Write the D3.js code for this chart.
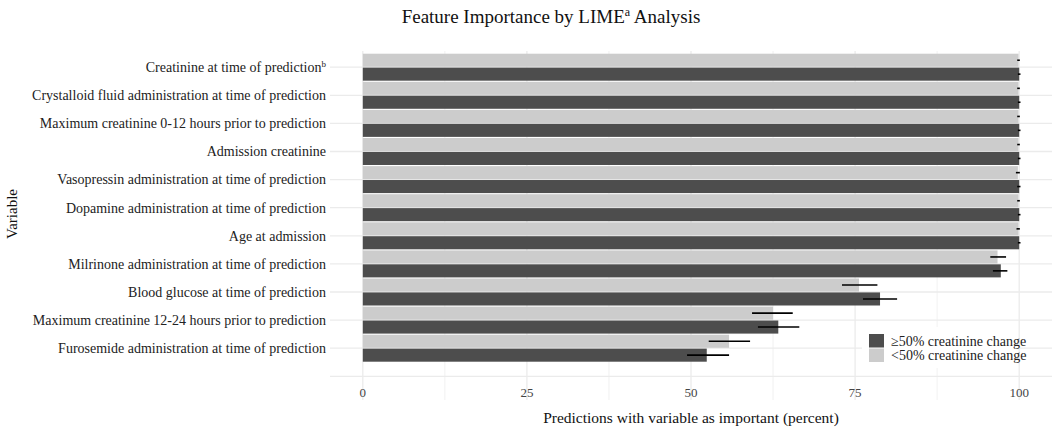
<!DOCTYPE html>
<html>
<head>
<meta charset="utf-8">
<script src="https://cdn.jsdelivr.net/npm/d3@7"></script>
<style>
  body { margin: 0; background: white; }
  text { font-family: 'Liberation Serif', 'DejaVu Serif', serif; }
</style>
</head>
<body>
<svg id="chart" width="1055" height="433"></svg>
<script>
// categories, top to bottom
const variables = [
    'Creatinine at time of prediction',
    'Crystalloid fluid administration at time of prediction',
    'Maximum creatinine 0-12 hours prior to prediction',
    'Admission creatinine',
    'Vasopressin administration at time of prediction',
    'Dopamine administration at time of prediction',
    'Age at admission',
    'Milrinone administration at time of prediction',
    'Blood glucose at time of prediction',
    'Maximum creatinine 12-24 hours prior to prediction',
    'Furosemide administration at time of prediction'
]
// superscript note after some labels
const labelNotes = ['b', '', '', '', '', '', '', '', '', '', '']

// <50% creatinine change
const lowValue = [99.9, 99.9, 99.9, 99.9, 99.8, 99.9, 99.9, 96.7, 75.6, 62.5, 55.8]
const lowMin = [99.7, 99.7, 99.7, 99.7, 99.5, 99.7, 99.6, 95.6, 73.0, 59.3, 52.7]
const lowMax = [100.1, 100.1, 100.1, 100.1, 100.1, 100.1, 100.1, 98.0, 78.4, 65.5, 59.0]

// ≥50% creatinine change
const highValue = [100, 100, 100, 100, 100, 100, 100, 97.2, 78.8, 63.3, 52.4]
const highMin = [99.8, 99.8, 99.8, 99.8, 99.7, 99.8, 99.8, 96.0, 76.2, 60.2, 49.4]
const highMax = [100.2, 100.2, 100.2, 100.2, 100.2, 100.2, 100.2, 98.2, 81.4, 66.5, 55.8]

const groups = ['low', 'high']
const groupLabels = { high: '≥50% creatinine change', low: '<50% creatinine change' }
const xTicks = [0, 25, 50, 75, 100]
const xMinor = [12.5, 37.5, 62.5, 87.5]

const color = { high: '#4d4d4d', low: '#cccccc' }
const grid = '#ebebeb'

const svg = d3.select('#chart')

// panel box
const panel = { left: 330, right: 1052, top: 51, bottom: 400 }

const x = d3.scaleLinear().domain([-5, 105]).range([panel.left, panel.right])
const y = d3.scaleBand().domain(variables).range([53.7, 53.7 + 28 * variables.length]).paddingInner(0.04)
const ySub = d3.scaleBand().domain(groups).range([0, y.bandwidth()]).paddingInner(0.06)

const rows = variables.map((name, i) => ({
    name: name,
    note: labelNotes[i],
    bars: [
        { key: 'low', value: lowValue[i], min: lowMin[i], max: lowMax[i] },
        { key: 'high', value: highValue[i], min: highMin[i], max: highMax[i] }
    ]
}))

// 网格线
const gridG = svg.append('g')
gridG.selectAll('.minor')
    .data(xMinor)
    .join('line')
    .attr('x1', (d) => x(d))
    .attr('x2', (d) => x(d))
    .attr('y1', panel.top)
    .attr('y2', panel.bottom)
    .attr('stroke', grid)
    .attr('stroke-width', 0.7)
gridG.selectAll('.major')
    .data(xTicks)
    .join('line')
    .attr('x1', (d) => x(d))
    .attr('x2', (d) => x(d))
    .attr('y1', panel.top)
    .attr('y2', panel.bottom)
    .attr('stroke', grid)
    .attr('stroke-width', 1.3)
// horizontal lines at every category, plus the empty slot under the last one
const rowCentres = variables.map((d) => y(d) + y.bandwidth() / 2)
rowCentres.push(rowCentres[rowCentres.length - 1] + y.step())
gridG.selectAll('.hline')
    .data(rowCentres)
    .join('line')
    .attr('x1', panel.left)
    .attr('x2', panel.right)
    .attr('y1', (d) => d)
    .attr('y2', (d) => d)
    .attr('stroke', grid)
    .attr('stroke-width', 1.3)

// 条形
const rowG = svg.append('g')
    .selectAll('g')
    .data(rows)
    .join('g')
    .attr('transform', (d) => `translate(0,${y(d.name)})`)

rowG.selectAll('rect')
    .data((d) => d.bars)
    .join('rect')
    .attr('x', x(0))
    .attr('y', (d) => ySub(d.key))
    .attr('width', (d) => x(d.value) - x(0))
    .attr('height', ySub.bandwidth())
    .attr('fill', (d) => color[d.key])

// 误差线
rowG.selectAll('line')
    .data((d) => d.bars)
    .join('line')
    .attr('x1', (d) => x(d.min))
    .attr('x2', (d) => x(d.max))
    .attr('y1', (d) => ySub(d.key) + ySub.bandwidth() / 2)
    .attr('y2', (d) => ySub(d.key) + ySub.bandwidth() / 2)
    .attr('stroke', 'black')
    .attr('stroke-width', 1.6)

// y轴标签
const yLabel = svg.append('g')
    .selectAll('text')
    .data(rows)
    .join('text')
    .attr('x', 326)
    .attr('y', (d) => y(d.name) + y.bandwidth() / 2)
    .attr('dy', '0.35em')
    .attr('text-anchor', 'end')
    .attr('font-size', '14px')
    .attr('fill', '#222')
    .text((d) => d.name)
yLabel.filter((d) => d.note)
    .append('tspan')
    .attr('font-size', '9px')
    .attr('dy', '-0.6em')
    .text((d) => d.note)

// x轴刻度
svg.append('g')
    .selectAll('text')
    .data(xTicks)
    .join('text')
    .attr('x', (d) => x(d))
    .attr('y', 397)
    .attr('text-anchor', 'middle')
    .attr('font-size', '13px')
    .attr('fill', '#444')
    .text((d) => d)

// 标题
const title = svg.append('text')
    .attr('x', 551)
    .attr('y', 23)
    .attr('text-anchor', 'middle')
    .attr('font-size', '19px')
    .attr('fill', '#111')
title.append('tspan').text('Feature Importance by LIME')
title.append('tspan').attr('font-size', '12px').attr('dy', '-7px').text('a')
title.append('tspan').attr('dy', '7px').text(' Analysis')

svg.append('text')
    .attr('x', (panel.left + panel.right) / 2)
    .attr('y', 423)
    .attr('text-anchor', 'middle')
    .attr('font-size', '15.5px')
    .attr('fill', '#111')
    .text('Predictions with variable as important (percent)')

svg.append('text')
    .attr('transform', 'translate(17,214) rotate(-90)')
    .attr('text-anchor', 'middle')
    .attr('font-size', '15px')
    .attr('fill', '#111')
    .text('Variable')

// 图例
const legend = svg.append('g').attr('transform', 'translate(862,327)')
legend.append('rect')
    .attr('width', 156)
    .attr('height', 41)
    .attr('fill', 'white')
const legendItem = legend.selectAll('g')
    .data(['high', 'low'])
    .join('g')
    .attr('transform', (d, i) => `translate(7,${7 + i * 14.5})`)
legendItem.append('rect')
    .attr('width', 15)
    .attr('height', 13.5)
    .attr('fill', (d) => color[d])
legendItem.append('text')
    .attr('x', 22)
    .attr('y', 7)
    .attr('dy', '0.35em')
    .attr('font-size', '14px')
    .attr('fill', '#222')
    .text((d) => groupLabels[d])
</script>
</body>
</html>
